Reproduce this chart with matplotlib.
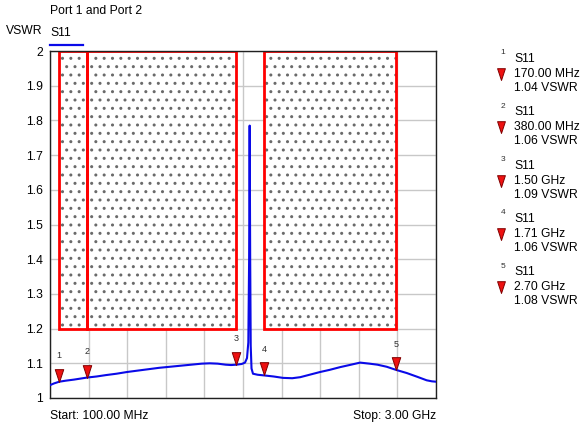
import numpy as np
import matplotlib
matplotlib.use("Agg")
import matplotlib.pyplot as plt
from matplotlib.path import Path
from matplotlib.patches import Rectangle

plt.rcParams['font.family'] = ['Liberation Sans', 'DejaVu Sans']
plt.rcParams['hatch.color'] = '#6a6a6a'
plt.rcParams['hatch.linewidth'] = 1.0

# ---- data ----
freq_mhz = [100, 130, 170, 220, 280, 330, 380, 450, 520, 600, 680, 760, 840, 920,
            1000, 1080, 1160, 1240, 1300, 1360, 1420, 1460, 1500, 1540, 1565, 1580,
            1590, 1596, 1600, 1604, 1608, 1614, 1625, 1660, 1710, 1780, 1850, 1920,
            1980, 2050, 2130, 2200, 2280, 2350, 2430, 2500, 2560, 2630, 2700, 2780,
            2860, 2930, 2970, 3000]
vswr = [1.037, 1.042, 1.047, 1.050, 1.053, 1.056, 1.059, 1.062, 1.066, 1.070, 1.075,
        1.079, 1.083, 1.087, 1.090, 1.093, 1.096, 1.099, 1.100, 1.099, 1.096, 1.095,
        1.096, 1.098, 1.102, 1.115, 1.16, 1.40, 1.785, 1.40, 1.15, 1.085, 1.070,
        1.067, 1.065, 1.062, 1.058, 1.057, 1.060, 1.067, 1.075, 1.081, 1.089, 1.095,
        1.102, 1.099, 1.096, 1.090, 1.081, 1.072, 1.061, 1.051, 1.048, 1.047]

# limit-line regions (start MHz, stop MHz, lower VSWR, upper VSWR)
limit_start = [170, 380, 1710]
limit_stop = [380, 1500, 2700]
limit_low = [1.2, 1.2, 1.2]
limit_high = [2.0, 2.0, 2.0]

marker_ids = ['1', '2', '3', '4', '5']
marker_freq = [170, 380, 1500, 1710, 2700]
marker_freq_text = ['170.00 MHz', '380.00 MHz', '1.50 GHz', '1.71 GHz', '2.70 GHz']
marker_vswr_text = ['1.04 VSWR', '1.06 VSWR', '1.09 VSWR', '1.06 VSWR', '1.08 VSWR']

y_ticks = [1, 1.1, 1.2, 1.3, 1.4, 1.5, 1.6, 1.7, 1.8, 1.9, 2]
y_tick_labels = ['1', '1.1', '1.2', '1.3', '1.4', '1.5', '1.6', '1.7', '1.8', '1.9', '2']
f_start, f_stop = 100, 3000

FS = 8.7

# ---- figure ----
W, H = 581, 430
fig = plt.figure(figsize=(W / 100, H / 100), dpi=100)
L, T, R, B = 50, 51, 436, 398
ax = fig.add_axes([L / W, 1 - B / H, (R - L) / W, (B - T) / H])
ax.set_xlim(f_start, f_stop)
ax.set_ylim(1, 2)

ax.set_xticks(np.linspace(f_start, f_stop, 11))
ax.set_xticklabels([])
ax.set_yticks(y_ticks)
ax.set_yticklabels(y_tick_labels, fontsize=FS)
ax.tick_params(length=0, pad=5)
ax.grid(True, color='#c8c8c8', linewidth=1.0)
ax.set_axisbelow(True)
for s in ax.spines.values():
    s.set_color('#202020')
    s.set_linewidth(1.0)

for x0, x1, y0, y1 in zip(limit_start, limit_stop, limit_low, limit_high):
    ax.add_patch(Rectangle((x0, y0), x1 - x0, y1 - y0, facecolor='white',
                           edgecolor='#6a6a6a', linewidth=0, hatch='..', zorder=1.5))
    ax.add_patch(Rectangle((x0, y0), x1 - x0, y1 - y0, fill=False,
                           edgecolor='#ff0000', linewidth=2.0, zorder=2))

ax.plot(freq_mhz, vswr, color='#0a0ae8', linewidth=1.5, zorder=3)

# marker triangles (tip at the point)
tri = Path([(0, 0), (-0.33, 1), (0.33, 1), (0, 0)],
           [Path.MOVETO, Path.LINETO, Path.LINETO, Path.CLOSEPOLY])
mk_y = np.interp(marker_freq, freq_mhz, vswr)
ax.plot(marker_freq, mk_y, linestyle='none', marker=tri, markersize=18.5,
        markerfacecolor='#ee1111', markeredgecolor='#800000', markeredgewidth=0.7,
        zorder=4, clip_on=False)
for mid, fx, fy in zip(marker_ids, marker_freq, mk_y):
    ax.annotate(mid, (fx, fy), xytext=(0, 18.5), textcoords='offset points',
                ha='center', va='center', fontsize=6.5, color='#303030')

# ---- overlay for texts in pixel coordinates ----
ov = fig.add_axes([0, 0, 1, 1])
ov.set_xlim(0, W)
ov.set_ylim(H, 0)
ov.axis('off')
ov.patch.set_alpha(0)

ov.text(50, 11, 'Port 1 and Port 2', fontsize=FS, ha='left', va='center')
ov.text(24, 31, 'VSWR', fontsize=FS, ha='center', va='center')
ov.text(50, 33, 'S11', fontsize=FS, ha='left', va='center')
ov.plot([50, 83], [45, 45], color='#0a0ae8', linewidth=1.6)
ov.text(L, 416, 'Start: 100.00 MHz', fontsize=FS, ha='left', va='center')
ov.text(R, 416, 'Stop: 3.00 GHz', fontsize=FS, ha='right', va='center')

for i, (mid, ft, vt) in enumerate(zip(marker_ids, marker_freq_text, marker_vswr_text)):
    y0 = 59 + i * 53.3
    ov.text(503, y0 - 6, mid, fontsize=6, ha='center', va='center', color='#303030')
    ov.text(514, y0, 'S11', fontsize=FS, ha='left', va='center')
    ov.plot([501], [y0 + 21], linestyle='none', marker=tri, markersize=17,
            markerfacecolor='#ee1111', markeredgecolor='#800000', markeredgewidth=0.7)
    ov.text(514, y0 + 15, ft, fontsize=FS, ha='left', va='center')
    ov.text(514, y0 + 29, vt, fontsize=FS, ha='left', va='center')

fig.savefig('out.png', dpi=100)
